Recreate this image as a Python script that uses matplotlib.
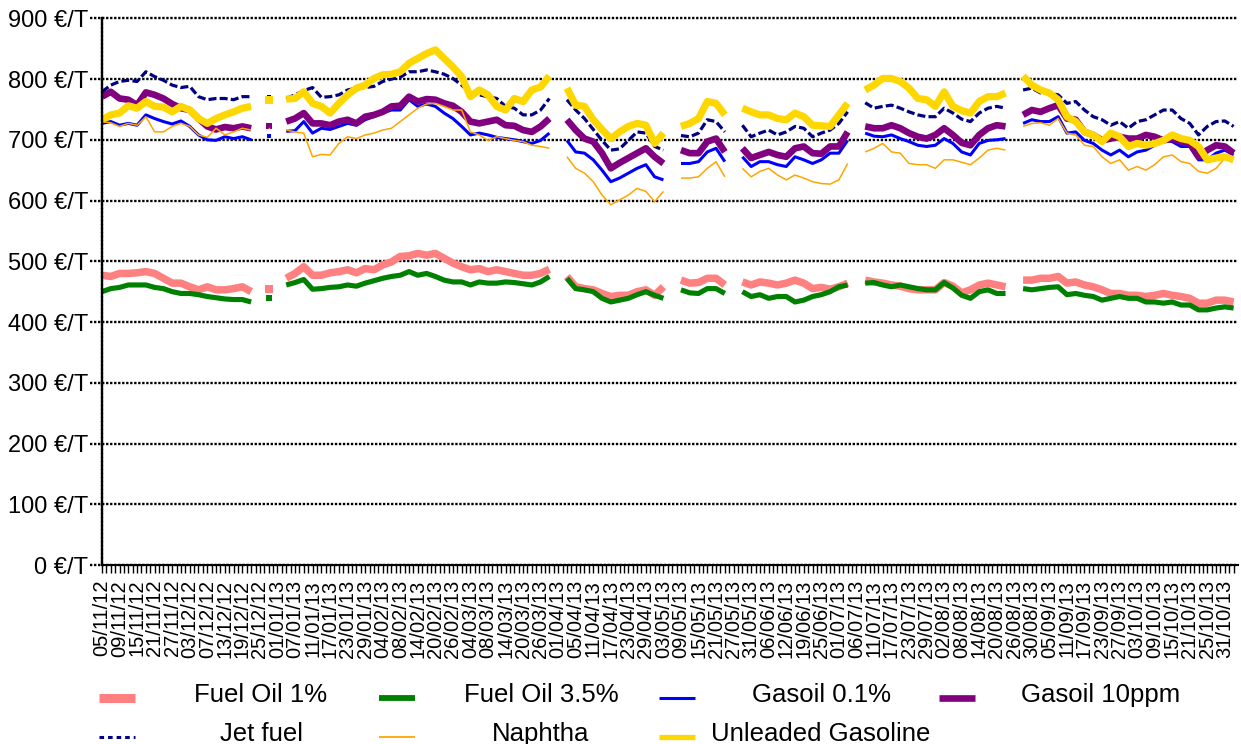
import numpy as np
import matplotlib
matplotlib.use("Agg")
import matplotlib.pyplot as plt
from matplotlib.lines import Line2D

nan = np.nan
plt.rcParams['font.family'] = ['Liberation Sans', 'DejaVu Sans']

# x labels, one every 4 trading days
tick_labels = [
    "05/11/12", "09/11/12", "15/11/12", "21/11/12", "27/11/12", "03/12/12", "07/12/12",
    "13/12/12", "19/12/12", "25/12/12", "01/01/13", "07/01/13", "11/01/13", "17/01/13",
    "23/01/13", "29/01/13", "04/02/13", "08/02/13", "14/02/13", "20/02/13", "26/02/13",
    "04/03/13", "08/03/13", "14/03/13", "20/03/13", "26/03/13", "01/04/13", "05/04/13",
    "11/04/13", "17/04/13", "23/04/13", "29/04/13", "03/05/13", "09/05/13", "15/05/13",
    "21/05/13", "27/05/13", "31/05/13", "06/06/13", "12/06/13", "19/06/13", "25/06/13",
    "01/07/13", "06/07/13", "11/07/13", "17/07/13", "23/07/13", "29/07/13", "02/08/13",
    "08/08/13", "14/08/13", "20/08/13", "26/08/13", "30/08/13", "05/09/13", "11/09/13",
    "17/09/13", "23/09/13", "27/09/13", "03/10/13", "09/10/13", "15/10/13", "21/10/13",
    "25/10/13", "31/10/13",
]
n_days = 259

# prices in EUR/T, one reading every 2 trading days (nan = no quote)
fuel_oil_1 = [
    477, 475, 480, 480, 481, 483, 480, 472, 464, 464,
    458, 453, 458, 453, 453, 455, 458, 450, nan, 454,
    nan, 472, 480, 491, 477, 477, 481, 483, 486, 481,
    488, 486, 494, 499, 508, 509, 513, 510, 513, 505,
    497, 491, 486, 488, 483, 486, 483, 480, 477, 477,
    480, 487, nan, 475, 458, 455, 453, 447, 442, 444,
    444, 450, 453, 444, 458, nan, 469, 464, 465, 472,
    472, 461, nan, 466, 461, 466, 464, 461, 464, 469,
    464, 455, 457, 454, 458, 464, nan, 469, 466, 464,
    461, 459, 455, 453, 453, 453, 465, 459, 448, 453,
    461, 464, 461, 458, nan, 469, 469, 472, 472, 475,
    464, 466, 461, 458, 453, 447, 447, 444, 444, 442,
    444, 447, 444, 442, 439, 431, 431, 436, 436, 433,
]
fuel_oil_35 = [
    450, 455, 457, 461, 461, 461, 457, 455, 450, 447,
    447, 445, 442, 440, 438, 437, 437, 433, nan, 439,
    nan, 461, 465, 470, 454, 455, 457, 458, 461, 459,
    464, 468, 472, 475, 477, 483, 477, 480, 475, 469,
    466, 466, 461, 466, 464, 464, 466, 465, 463, 461,
    466, 475, nan, 472, 455, 453, 450, 439, 433, 436,
    439, 445, 450, 444, 439, nan, 453, 448, 447, 455,
    455, 447, nan, 450, 442, 445, 439, 442, 442, 433,
    436, 442, 445, 450, 458, 461, nan, 464, 465, 461,
    458, 461, 458, 455, 453, 453, 465, 456, 444, 439,
    450, 453, 447, 447, nan, 455, 453, 455, 457, 458,
    445, 447, 444, 442, 436, 439, 442, 439, 439, 433,
    433, 431, 433, 428, 428, 420, 420, 423, 425, 423,
]
gasoil_01 = [
    727, 730, 724, 727, 724, 741, 735, 730, 726, 731,
    722, 708, 700, 699, 705, 702, 705, 700, nan, 706,
    nan, 714, 715, 730, 711, 719, 717, 722, 727, 724,
    733, 738, 744, 749, 749, 766, 755, 759, 755, 744,
    735, 722, 708, 711, 708, 704, 702, 700, 697, 694,
    699, 711, nan, 699, 680, 678, 667, 650, 631, 637,
    645, 653, 659, 639, 634, nan, 661, 661, 664, 680,
    686, 664, nan, 672, 656, 664, 664, 659, 656, 672,
    667, 661, 667, 678, 678, 699, nan, 711, 706, 705,
    708, 702, 697, 691, 689, 691, 702, 694, 680, 675,
    694, 699, 700, 702, nan, 727, 733, 730, 730, 738,
    711, 713, 699, 694, 683, 675, 683, 672, 680, 683,
    691, 699, 697, 689, 689, 667, 667, 678, 683, 675,
]
gasoil_10ppm = [
    771, 779, 768, 766, 757, 778, 774, 768, 759, 752,
    749, 735, 722, 717, 721, 719, 722, 719, nan, 723,
    nan, 730, 735, 744, 727, 727, 724, 730, 733, 727,
    738, 741, 746, 755, 756, 771, 763, 767, 766, 760,
    756, 746, 730, 727, 730, 733, 724, 723, 716, 713,
    722, 735, nan, 733, 716, 702, 697, 678, 653, 662,
    670, 678, 686, 672, 661, nan, 683, 678, 678, 697,
    702, 680, nan, 686, 670, 675, 680, 675, 672, 686,
    689, 678, 677, 689, 689, 713, nan, 722, 719, 719,
    724, 719, 711, 705, 702, 708, 719, 708, 695, 691,
    708, 719, 724, 722, nan, 741, 749, 746, 752, 757,
    735, 733, 713, 708, 699, 702, 705, 702, 702, 708,
    705, 699, 702, 697, 694, 672, 683, 691, 689, 678,
]
jet_fuel = [
    779, 790, 796, 798, 796, 812, 804, 798, 790, 786,
    788, 771, 766, 768, 768, 766, 771, 771, nan, 770,
    nan, 768, 774, 781, 786, 770, 771, 774, 782, 785,
    786, 788, 796, 800, 803, 812, 812, 815, 812, 808,
    801, 790, 777, 774, 771, 768, 755, 752, 741, 741,
    749, 768, nan, 766, 749, 735, 717, 699, 683, 685,
    699, 713, 711, 689, 683, nan, 707, 705, 711, 733,
    730, 713, nan, 724, 705, 711, 716, 708, 713, 722,
    719, 705, 711, 716, 727, 746, nan, 761, 752, 755,
    757, 752, 746, 741, 738, 738, 752, 744, 734, 730,
    744, 752, 755, 752, nan, 782, 785, 777, 777, 774,
    760, 763, 749, 738, 733, 724, 730, 719, 730, 733,
    741, 749, 749, 735, 727, 708, 722, 730, 731, 722,
]
naphtha = [
    730, 728, 722, 727, 724, 738, 713, 713, 722, 727,
    722, 708, 704, 719, 708, 713, 719, 716, nan, 719,
    nan, 716, 713, 711, 672, 676, 675, 694, 705, 702,
    708, 711, 716, 719, 730, 741, 752, 759, 760, 755,
    749, 749, 713, 708, 699, 705, 702, 699, 697, 691,
    689, 686, nan, 672, 653, 645, 631, 609, 593, 601,
    609, 620, 615, 598, 615, nan, 637, 637, 639, 653,
    664, 639, nan, 653, 639, 648, 653, 642, 634, 642,
    637, 631, 628, 627, 634, 661, nan, 680, 686, 694,
    680, 678, 661, 659, 659, 653, 667, 667, 663, 659,
    670, 683, 686, 683, nan, 722, 727, 728, 724, 735,
    711, 708, 691, 689, 672, 661, 667, 650, 656, 650,
    659, 672, 675, 664, 661, 648, 645, 653, 670, 672,
]
unleaded = [
    733, 741, 744, 756, 752, 763, 755, 754, 746, 755,
    749, 735, 727, 735, 741, 746, 752, 755, nan, 766,
    nan, 767, 768, 779, 760, 755, 744, 760, 774, 785,
    790, 801, 807, 808, 812, 826, 834, 842, 848, 834,
    820, 804, 771, 782, 774, 755, 749, 768, 763, 782,
    787, 805, nan, 785, 757, 755, 733, 717, 702, 713,
    722, 727, 724, 694, 711, nan, 722, 727, 735, 763,
    760, 741, nan, 752, 746, 741, 741, 735, 733, 744,
    738, 724, 723, 722, 741, 760, nan, 782, 790, 801,
    801, 796, 785, 768, 766, 755, 779, 755, 748, 744,
    763, 771, 771, 777, nan, 805, 790, 782, 777, 766,
    738, 730, 713, 708, 697, 711, 705, 689, 694, 691,
    694, 699, 708, 702, 699, 689, 667, 670, 672, 667,
]

W, H = 1241, 744
fig = plt.figure(figsize=(W / 100, H / 100), dpi=100)
ax = fig.add_axes([102 / W, 1 - 565 / H, (1238 - 102) / W, (565 - 18.3) / H])

dotted = (0, (1, 0.7))
# name, values, colour, chart width, chart style, legend width, legend style
series = [
    ("Fuel Oil 1%", fuel_oil_1, "#FF8080", 5.4, "-", 6.5, "-"),
    ("Fuel Oil 3.5%", fuel_oil_35, "#008000", 3.7, "-", 4.2, "-"),
    ("Gasoil 0.1%", gasoil_01, "#0000FF", 2.2, "-", 2.2, "-"),
    ("Gasoil 10ppm", gasoil_10ppm, "#800080", 4.8, "-", 4.8, "-"),
    ("Jet fuel", jet_fuel, "#000080", 2.3, (0, (2.5, 1)), 2.2, (0, (1.5, 1.3))),
    ("Naphtha", naphtha, "#FFA500", 1.1, "-", 1.3, "-"),
    ("Unleaded Gasoline", unleaded, "#FFD700", 5.2, "-", 3.8, "-"),
]

for name, vals, color, lw, ls, _, _ in series:
    y = np.array(vals, dtype=float)
    x = np.arange(len(y)) * 2
    ax.plot(x, y, color=color, lw=lw, ls=ls, solid_capstyle="butt", zorder=2)
    # single quotes between holidays only show as a dot
    lone = np.isfinite(y) & np.isnan(np.r_[nan, y[:-1]]) & np.isnan(np.r_[y[1:], nan])
    ax.plot(x[lone], y[lone], "s", color=color, ms=lw, mew=0, zorder=2)

ax.set_xlim(0, n_days)
ax.set_ylim(0, 900)

yticks = list(range(0, 901, 100))
for v in yticks:
    ax.axhline(v, xmin=-12 / 1136, xmax=1, color="black", lw=1.7, ls=dotted,
               clip_on=False, zorder=1)
ax.set_yticks(yticks)
ax.set_yticklabels([f"{v} €/T" for v in yticks], fontsize=17)
ax.tick_params(axis="y", length=0, pad=9.8)

ax.set_xticks(np.arange(0, 4 * len(tick_labels), 4))
ax.set_xticklabels(tick_labels, rotation=90, fontsize=14.5)
ax.set_xticks(np.arange(n_days), minor=True)
ax.tick_params(axis="x", which="both", direction="out", length=5.8, width=1,
               color="black", pad=5)

for s in ["top", "right"]:
    ax.spines[s].set_visible(False)
ax.spines["left"].set_linestyle(dotted)
ax.spines["left"].set_linewidth(1.7)
ax.spines["bottom"].set_linewidth(1.5)

# legend drawn by hand: 4 columns, text centred in its slot
for k, (name, vals, color, _, _, llw, lls) in enumerate(series):
    row, col = divmod(k, 4)
    yc = 697.5 + 39 * row
    x0 = 99 + 280 * col
    fig.add_artist(Line2D([x0 / W, (x0 + 36) / W], [1 - yc / H] * 2,
                          color=color, lw=llw, ls=lls, solid_capstyle="butt"))
    fig.text((x0 + 162) / W, 1 - (yc + 4.5) / H, name, ha="center",
             va="baseline", fontsize=18.5)

fig.savefig("out.png", dpi=100)
